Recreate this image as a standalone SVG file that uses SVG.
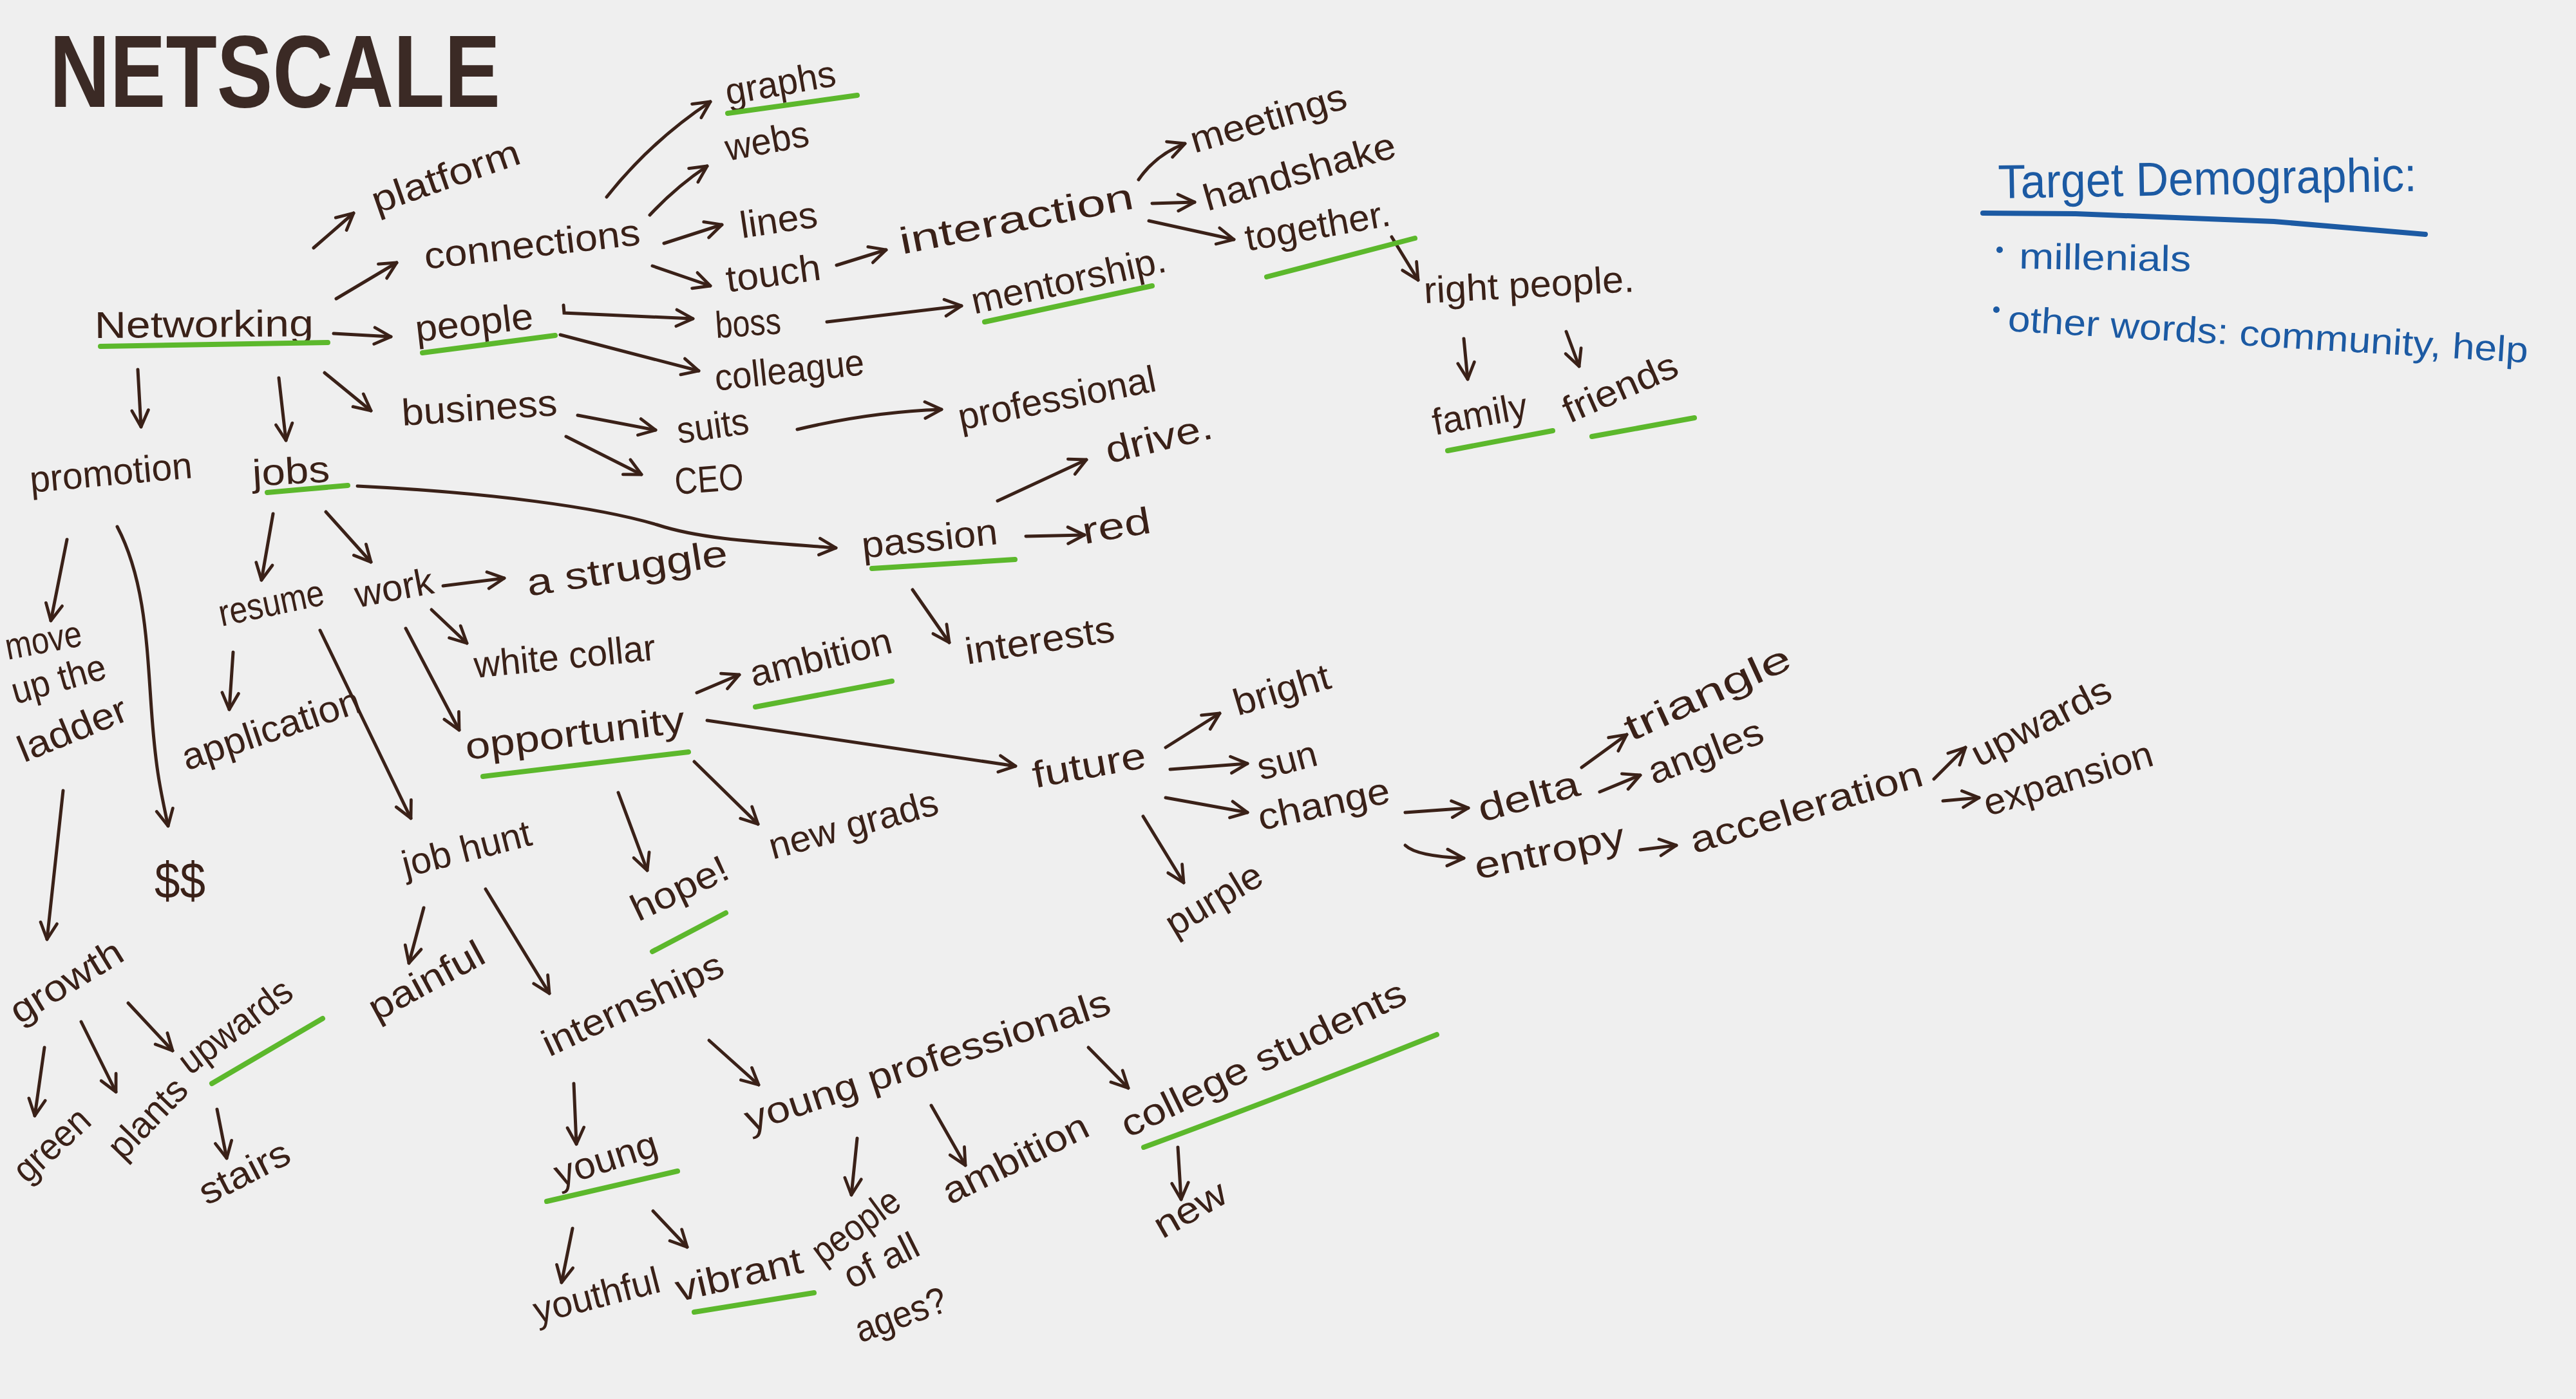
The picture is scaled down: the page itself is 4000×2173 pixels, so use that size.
<svg xmlns="http://www.w3.org/2000/svg" width="4000" height="2173" viewBox="0 0 4000 2173">
<style>
.t{font-family:"Liberation Sans",Arial,sans-serif;font-size:58px;fill:#3a2118}
.big{font-family:"Liberation Sans",Arial,sans-serif;font-size:160px;font-weight:bold;fill:#3b2a25}
.b{font-family:"Liberation Sans",Arial,sans-serif;font-size:56px;fill:#1c5aa3}
.bh{font-family:"Liberation Sans",Arial,sans-serif;font-size:74px;fill:#1c5aa3}
.c path{fill:none;stroke:#3a2118;stroke-width:5;stroke-linecap:round;marker-end:url(#ah)}
.u{fill:none;stroke:#5cb82c;stroke-width:8;stroke-linecap:round}
.bu{fill:none;stroke:#1c5aa3;stroke-width:8;stroke-linecap:round}
</style>
<defs>
<marker id="ah" viewBox="0 0 20 20" refX="18" refY="10" markerWidth="32" markerHeight="32" markerUnits="userSpaceOnUse" orient="auto">
<path d="M2,2 L18,10 L2,18" fill="none" stroke="#3a2118" stroke-width="3" stroke-linecap="round" stroke-linejoin="round"/>
</marker>
</defs>
<rect width="4000" height="2173" fill="#efefef"/>

<g id="title"><text class="big" x="77" y="166" textLength="700" lengthAdjust="spacingAndGlyphs">NETSCALE</text></g>

<g id="connectors" class="c">
<path d="M487,385 L549,331"/>
<path d="M522,464 L616,408"/>
<path d="M518,518 L607,523"/>
<path d="M504,579 L576,638"/>
<path d="M214,574 L219,663"/>
<path d="M433,587 L444,684"/>
<path d="M942,306 Q1010,220 1103,158"/>
<path d="M1009,334 Q1050,290 1098,258"/>
<path d="M1031,378 L1121,349"/>
<path d="M1013,413 L1103,444"/>
<path d="M875,474 L876,486 L1076,495"/>
<path d="M870,520 L1085,576"/>
<path d="M897,645 L1018,668"/>
<path d="M879,678 L996,737"/>
<path d="M555,755 C760,765 930,788 1020,815 C1090,838 1180,842 1298,851"/>
<path d="M1593,833 L1684,831"/>
<path d="M1549,778 L1687,714"/>
<path d="M1417,916 L1474,998"/>
<path d="M1299,412 L1376,388"/>
<path d="M1768,279 Q1795,240 1840,223"/>
<path d="M1789,316 L1855,314"/>
<path d="M1784,343 L1916,372"/>
<path d="M2161,368 L2202,435"/>
<path d="M2273,526 L2279,589"/>
<path d="M2432,515 L2452,569"/>
<path d="M1284,500 L1493,475"/>
<path d="M1238,667 Q1350,640 1462,636"/>
<path d="M104,838 L79,964"/>
<path d="M182,818 C225,900 228,1000 235,1100 S250,1230 261,1283"/>
<path d="M98,1228 L73,1459"/>
<path d="M424,798 L406,901"/>
<path d="M506,795 L576,873"/>
<path d="M688,910 L783,898"/>
<path d="M670,947 L725,999"/>
<path d="M630,976 L713,1134"/>
<path d="M362,1013 L356,1102"/>
<path d="M497,979 L638,1271"/>
<path d="M1082,1076 L1148,1048"/>
<path d="M1098,1119 Q1300,1150 1577,1190"/>
<path d="M960,1231 L1005,1352"/>
<path d="M1078,1183 L1177,1280"/>
<path d="M1810,1161 L1894,1108"/>
<path d="M1817,1195 L1937,1186"/>
<path d="M1810,1239 L1937,1262"/>
<path d="M1775,1268 L1838,1371"/>
<path d="M2182,1262 L2280,1255"/>
<path d="M2456,1192 L2526,1141"/>
<path d="M2484,1230 L2547,1204"/>
<path d="M2182,1313 Q2200,1330 2273,1333"/>
<path d="M2547,1320 L2603,1313"/>
<path d="M3003,1210 L3052,1161"/>
<path d="M3017,1244 L3073,1239"/>
<path d="M69,1627 L54,1733"/>
<path d="M126,1587 L180,1696"/>
<path d="M199,1558 L268,1632"/>
<path d="M337,1723 L352,1799"/>
<path d="M658,1410 L635,1496"/>
<path d="M754,1381 L853,1543"/>
<path d="M891,1683 L895,1777"/>
<path d="M1101,1616 L1178,1685"/>
<path d="M889,1908 L872,1992"/>
<path d="M1014,1881 L1067,1937"/>
<path d="M1331,1768 L1322,1856"/>
<path d="M1446,1717 L1499,1810"/>
<path d="M1690,1627 L1752,1690"/>
<path d="M1829,1782 L1834,1863"/>
</g>

<g id="n-networking"><text class="t" x="147" y="525" transform="rotate(-0.5,147,525)" textLength="340" lengthAdjust="spacingAndGlyphs">Networking</text><path class="u" d="M156,538 L509,532"/></g>
<g id="n-platform"><text class="t" x="585" y="332" transform="rotate(-19.2,585,332)" textLength="240" lengthAdjust="spacingAndGlyphs">platform</text></g>
<g id="n-connections"><text class="t" x="661" y="418" transform="rotate(-6.5,661,418)" textLength="337" lengthAdjust="spacingAndGlyphs">connections</text></g>
<g id="n-people"><text class="t" x="647" y="531" transform="rotate(-6.5,647,531)" textLength="184" lengthAdjust="spacingAndGlyphs">people</text><path class="u" d="M656,548 L862,521"/></g>
<g id="n-business"><text class="t" x="625" y="661" transform="rotate(-3.8,625,661)" textLength="242" lengthAdjust="spacingAndGlyphs">business</text></g>
<g id="n-promotion"><text class="t" x="48" y="765" transform="rotate(-5.2,48,765)" textLength="253" lengthAdjust="spacingAndGlyphs">promotion</text></g>
<g id="n-jobs"><text class="t" x="393" y="755" transform="rotate(-3.3,393,755)" textLength="120" lengthAdjust="spacingAndGlyphs">jobs</text><path class="u" d="M415,765 L540,754"/></g>
<g id="n-graphs"><text class="t" x="1130" y="163" transform="rotate(-10,1130,163)" textLength="173" lengthAdjust="spacingAndGlyphs">graphs</text><path class="u" d="M1130,176 L1331,148"/></g>
<g id="n-webs"><text class="t" x="1130" y="250" transform="rotate(-10.5,1130,250)" textLength="131" lengthAdjust="spacingAndGlyphs">webs</text></g>
<g id="n-lines"><text class="t" x="1152" y="370" transform="rotate(-8.5,1152,370)" textLength="121" lengthAdjust="spacingAndGlyphs">lines</text></g>
<g id="n-touch"><text class="t" x="1130" y="454" transform="rotate(-7.7,1130,454)" textLength="148" lengthAdjust="spacingAndGlyphs">touch</text></g>
<g id="n-boss"><text class="t" x="1112" y="525" transform="rotate(-3.9,1112,525)" textLength="102" lengthAdjust="spacingAndGlyphs">boss</text></g>
<g id="n-colleague"><text class="t" x="1112" y="607" transform="rotate(-6.2,1112,607)" textLength="233" lengthAdjust="spacingAndGlyphs">colleague</text></g>
<g id="n-suits"><text class="t" x="1054" y="689" transform="rotate(-8.2,1054,689)" textLength="112" lengthAdjust="spacingAndGlyphs">suits</text></g>
<g id="n-ceo"><text class="t" x="1049" y="768" transform="rotate(-4.3,1049,768)" textLength="107" lengthAdjust="spacingAndGlyphs">CEO</text></g>
<g id="n-passion"><text class="t" x="1340" y="867" transform="rotate(-6,1340,867)" textLength="212" lengthAdjust="spacingAndGlyphs">passion</text><path class="u" d="M1354,883 L1576,869"/></g>
<g id="n-red"><text class="t" x="1684" y="845" transform="rotate(-9.7,1684,845)" textLength="107" lengthAdjust="spacingAndGlyphs">red</text></g>
<g id="n-drive"><text class="t" x="1722" y="720" transform="rotate(-13.7,1722,720)" textLength="169" lengthAdjust="spacingAndGlyphs">drive.</text></g>
<g id="n-interests"><text class="t" x="1502" y="1032" transform="rotate(-8.9,1502,1032)" textLength="234" lengthAdjust="spacingAndGlyphs">interests</text></g>
<g id="n-interaction"><text class="t" x="1401" y="395" transform="rotate(-11.2,1401,395)" textLength="369" lengthAdjust="spacingAndGlyphs">interaction</text></g>
<g id="n-meetings"><text class="t" x="1855" y="238" transform="rotate(-16.5,1855,238)" textLength="250" lengthAdjust="spacingAndGlyphs">meetings</text></g>
<g id="n-handshake"><text class="t" x="1875" y="328" transform="rotate(-16,1875,328)" textLength="308" lengthAdjust="spacingAndGlyphs">handshake</text></g>
<g id="n-together"><text class="t" x="1937" y="390" transform="rotate(-10.1,1937,390)" textLength="228" lengthAdjust="spacingAndGlyphs">together.</text><path class="u" d="M1967,430 L2197,370"/></g>
<g id="n-rightpeople"><text class="t" x="2212" y="471" transform="rotate(-3.2,2212,471)" textLength="327" lengthAdjust="spacingAndGlyphs">right people.</text></g>
<g id="n-family"><text class="t" x="2228" y="676" transform="rotate(-10.4,2228,676)" textLength="149" lengthAdjust="spacingAndGlyphs">family</text><path class="u" d="M2248,700 L2411,669"/></g>
<g id="n-friends"><text class="t" x="2437" y="658" transform="rotate(-23.7,2437,658)" textLength="189" lengthAdjust="spacingAndGlyphs">friends</text><path class="u" d="M2472,678 L2631,649"/></g>
<g id="n-mentorship"><text class="t" x="1513" y="488" transform="rotate(-12.5,1513,488)" textLength="308" lengthAdjust="spacingAndGlyphs">mentorship.</text><path class="u" d="M1529,500 L1789,444"/></g>
<g id="n-professional"><text class="t" x="1492" y="668" transform="rotate(-11.3,1492,668)" textLength="312" lengthAdjust="spacingAndGlyphs">professional</text></g>
<g id="n-ladder"><text class="t" x="12" y="1025" transform="rotate(-10.8,12,1025)" textLength="120" lengthAdjust="spacingAndGlyphs">move</text><text class="t" x="24" y="1094" transform="rotate(-15.8,24,1094)" textLength="150" lengthAdjust="spacingAndGlyphs">up the</text><text class="t" x="37" y="1185" transform="rotate(-22.3,37,1185)" textLength="179" lengthAdjust="spacingAndGlyphs">ladder</text></g>
<g id="n-money"><text class="t" x="240" y="1395" style="font-size:80px" textLength="79" lengthAdjust="spacingAndGlyphs">$$</text></g>
<g id="n-resume"><text class="t" x="344" y="973" transform="rotate(-11.9,344,973)" textLength="166" lengthAdjust="spacingAndGlyphs">resume</text></g>
<g id="n-work"><text class="t" x="555" y="944" transform="rotate(-10.8,555,944)" textLength="123" lengthAdjust="spacingAndGlyphs">work</text></g>
<g id="n-struggle"><text class="t" x="821" y="926" transform="rotate(-8.8,821,926)" textLength="315" lengthAdjust="spacingAndGlyphs">a struggle</text></g>
<g id="n-whitecollar"><text class="t" x="738" y="1053" transform="rotate(-5.7,738,1053)" textLength="283" lengthAdjust="spacingAndGlyphs">white collar</text></g>
<g id="n-opportunity"><text class="t" x="725" y="1180" transform="rotate(-7.2,725,1180)" textLength="343" lengthAdjust="spacingAndGlyphs">opportunity</text><path class="u" d="M750,1206 L1069,1168"/></g>
<g id="n-application"><text class="t" x="290" y="1197" transform="rotate(-18.6,290,1197)" textLength="289" lengthAdjust="spacingAndGlyphs">application</text></g>
<g id="n-jobhunt"><text class="t" x="630" y="1363" transform="rotate(-14.4,630,1363)" textLength="205" lengthAdjust="spacingAndGlyphs">job hunt</text></g>
<g id="n-ambition1"><text class="t" x="1170" y="1067" transform="rotate(-13.9,1170,1067)" textLength="225" lengthAdjust="spacingAndGlyphs">ambition</text><path class="u" d="M1173,1098 L1385,1058"/></g>
<g id="n-future"><text class="t" x="1607" y="1224" transform="rotate(-10.4,1607,1224)" textLength="178" lengthAdjust="spacingAndGlyphs">future</text></g>
<g id="n-hope"><text class="t" x="991" y="1432" transform="rotate(-25.4,991,1432)" textLength="161" lengthAdjust="spacingAndGlyphs">hope!</text><path class="u" d="M1013,1478 L1127,1418"/></g>
<g id="n-newgrads"><text class="t" x="1200" y="1335" transform="rotate(-15.3,1200,1335)" textLength="270" lengthAdjust="spacingAndGlyphs">new grads</text></g>
<g id="n-bright"><text class="t" x="1922" y="1112" transform="rotate(-16.6,1922,1112)" textLength="154" lengthAdjust="spacingAndGlyphs">bright</text></g>
<g id="n-sun"><text class="t" x="1958" y="1212" transform="rotate(-14.8,1958,1212)" textLength="94" lengthAdjust="spacingAndGlyphs">sun</text></g>
<g id="n-change"><text class="t" x="1958" y="1290" transform="rotate(-12.2,1958,1290)" textLength="208" lengthAdjust="spacingAndGlyphs">change</text></g>
<g id="n-purple"><text class="t" x="1824" y="1456" transform="rotate(-31,1824,1456)" textLength="165" lengthAdjust="spacingAndGlyphs">purple</text></g>
<g id="n-delta"><text class="t" x="2301" y="1277" transform="rotate(-15.2,2301,1277)" textLength="161" lengthAdjust="spacingAndGlyphs">delta</text></g>
<g id="n-triangle"><text class="t" x="2533" y="1152" transform="rotate(-24.6,2533,1152)" textLength="278" lengthAdjust="spacingAndGlyphs">triangle</text></g>
<g id="n-angles"><text class="t" x="2568" y="1219" transform="rotate(-21,2568,1219)" textLength="187" lengthAdjust="spacingAndGlyphs">angles</text></g>
<g id="n-entropy"><text class="t" x="2294" y="1366" transform="rotate(-11.9,2294,1366)" textLength="237" lengthAdjust="spacingAndGlyphs">entropy</text></g>
<g id="n-acceleration"><text class="t" x="2631" y="1326" transform="rotate(-16.6,2631,1326)" textLength="374" lengthAdjust="spacingAndGlyphs">acceleration</text></g>
<g id="n-upwards2"><text class="t" x="3073" y="1192" transform="rotate(-27,3073,1192)" textLength="236" lengthAdjust="spacingAndGlyphs">upwards</text></g>
<g id="n-expansion"><text class="t" x="3087" y="1268" transform="rotate(-17.1,3087,1268)" textLength="272" lengthAdjust="spacingAndGlyphs">expansion</text></g>
<g id="n-growth"><text class="t" x="30" y="1592" transform="rotate(-31.5,30,1592)" textLength="195" lengthAdjust="spacingAndGlyphs">growth</text></g>
<g id="n-green"><text class="t" x="42" y="1840" transform="rotate(-42.8,42,1840)" textLength="140" lengthAdjust="spacingAndGlyphs">green</text></g>
<g id="n-plants"><text class="t" x="191" y="1804" transform="rotate(-46,191,1804)" textLength="150" lengthAdjust="spacingAndGlyphs">plants</text></g>
<g id="n-upwards1"><text class="t" x="295" y="1671" transform="rotate(-36.9,295,1671)" textLength="205" lengthAdjust="spacingAndGlyphs">upwards</text><path class="u" d="M329,1683 L501,1582"/></g>
<g id="n-stairs"><text class="t" x="321" y="1873" transform="rotate(-27.2,321,1873)" textLength="151" lengthAdjust="spacingAndGlyphs">stairs</text></g>
<g id="n-painful"><text class="t" x="585" y="1587" transform="rotate(-28.4,585,1587)" textLength="196" lengthAdjust="spacingAndGlyphs">painful</text></g>
<g id="n-internships"><text class="t" x="853" y="1642" transform="rotate(-25.1,853,1642)" textLength="304" lengthAdjust="spacingAndGlyphs">internships</text></g>
<g id="n-young"><text class="t" x="868" y="1844" transform="rotate(-17.7,868,1844)" textLength="165" lengthAdjust="spacingAndGlyphs">young</text><path class="u" d="M849,1866 L1052,1819"/></g>
<g id="n-youthful"><text class="t" x="834" y="2056" transform="rotate(-14.4,834,2056)" textLength="201" lengthAdjust="spacingAndGlyphs">youthful</text></g>
<g id="n-vibrant"><text class="t" x="1054" y="2022" transform="rotate(-13.2,1054,2022)" textLength="201" lengthAdjust="spacingAndGlyphs">vibrant</text><path class="u" d="M1078,2038 L1264,2008"/></g>
<g id="n-youngprof"><text class="t" x="1164" y="1759" transform="rotate(-18.2,1164,1759)" textLength="594" lengthAdjust="spacingAndGlyphs">young professionals</text></g>
<g id="n-peopleallages"><text class="t" x="1278" y="1966" transform="rotate(-36.4,1278,1966)" textLength="155" lengthAdjust="spacingAndGlyphs">people</text><text class="t" x="1322" y="2003" transform="rotate(-26.6,1322,2003)" textLength="123" lengthAdjust="spacingAndGlyphs">of all</text><text class="t" x="1336" y="2086" transform="rotate(-20.1,1336,2086)" textLength="148" lengthAdjust="spacingAndGlyphs">ages?</text></g>
<g id="n-ambition2"><text class="t" x="1475" y="1872" transform="rotate(-26.4,1475,1872)" textLength="246" lengthAdjust="spacingAndGlyphs">ambition</text></g>
<g id="n-college"><text class="t" x="1752" y="1768" transform="rotate(-25.9,1752,1768)" textLength="485" lengthAdjust="spacingAndGlyphs">college students</text><path class="u" d="M1776,1782 Q2000,1700 2231,1607"/></g>
<g id="n-new"><text class="t" x="1805" y="1925" transform="rotate(-29.7,1805,1925)" textLength="121" lengthAdjust="spacingAndGlyphs">new</text></g>

<g id="target">
<text class="bh" x="3103" y="308" transform="rotate(-1,3103,308)" textLength="650" lengthAdjust="spacingAndGlyphs">Target Demographic:</text>
<path class="bu" d="M3079,331 L3223,332 L3531,344 L3766,364"/>
<circle cx="3105" cy="388" r="5" fill="#1c5aa3"/>
<text class="b" x="3135" y="417" transform="rotate(1,3135,417)" textLength="267" lengthAdjust="spacingAndGlyphs">millenials</text>
<circle cx="3100" cy="481" r="5" fill="#1c5aa3"/>
<text class="b" x="3117" y="514" transform="rotate(3.5,3117,514)" textLength="809" lengthAdjust="spacingAndGlyphs">other words: community, help</text>
</g>
</svg>
